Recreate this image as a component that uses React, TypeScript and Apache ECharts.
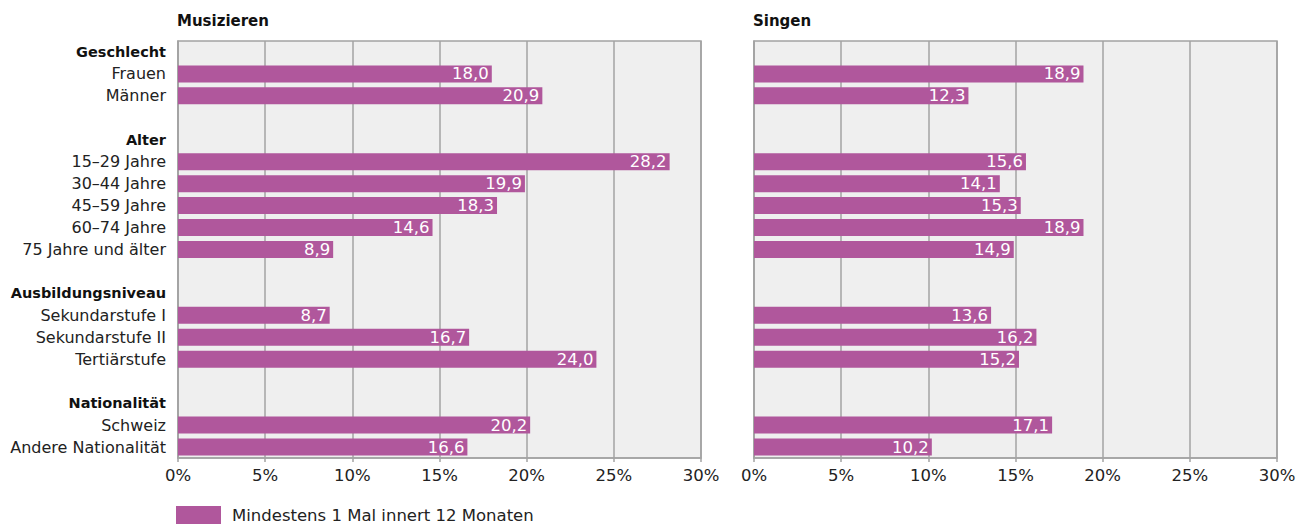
import React, { useEffect, useRef } from "react";
import * as echarts from "echarts";

const categories = [
  "Geschlecht", "Frauen", "Männer", " ",
  "Alter", "15–29 Jahre", "30–44 Jahre", "45–59 Jahre", "60–74 Jahre", "75 Jahre und älter", "  ",
  "Ausbildungsniveau", "Sekundarstufe I", "Sekundarstufe II", "Tertiärstufe", "   ",
  "Nationalität", "Schweiz", "Andere Nationalität",
];
const headers = ["Geschlecht", "Alter", "Ausbildungsniveau", "Nationalität"];

const musizieren = [null, 18.0, 20.9, null, null, 28.2, 19.9, 18.3, 14.6, 8.9, null, null, 8.7, 16.7, 24.0, null, null, 20.2, 16.6];
const singen = [null, 18.9, 12.3, null, null, 15.6, 14.1, 15.3, 18.9, 14.9, null, null, 13.6, 16.2, 15.2, null, null, 17.1, 10.2];

const panelTitles = ["Musizieren", "Singen"];
const legendLabel = "Mindestens 1 Mal innert 12 Monaten";

const FONT = "'DejaVu Sans', sans-serif";
const BAR = "#b0579c";
const LINE = "#a3a3a3";

export default function App() {
  const ref = useRef<HTMLDivElement>(null);
  useEffect(() => {
    if (!ref.current) return;
    const chart = echarts.init(ref.current, null, { renderer: "svg" });
    const grids = [
      { left: 178, width: 523, top: 41, height: 417 },
      { left: 754, width: 523, top: 41, height: 417 },
    ];
    const xAxis = grids.map((_, i) => ({
      type: "value",
      gridIndex: i,
      min: 0,
      max: 30,
      interval: 5,
      axisLabel: {
        formatter: "{value}%",
        color: "#222",
        fontSize: 16.5,
        fontFamily: FONT,
        margin: 9,
      },
      axisLine: { show: true, lineStyle: { color: LINE, width: 1.5 } },
      axisTick: { show: true, length: 4, lineStyle: { color: LINE, width: 1.5 } },
      splitLine: { show: true, lineStyle: { color: LINE, width: 1.5 } },
    }));
    const yAxis = grids.map((_, i) => ({
      type: "category",
      gridIndex: i,
      inverse: true,
      data: categories,
      axisLine: { show: true, lineStyle: { color: LINE, width: 1.5 } },
      axisTick: { show: false },
      axisLabel: {
        show: i === 0,
        interval: 0,
        margin: 12,
        color: "#222",
        fontSize: 16,
        fontFamily: FONT,
        formatter: (v: string) => (headers.includes(v) ? `{b|${v}}` : v),
        rich: { b: { fontWeight: "bold", fontSize: 14.5, fontFamily: FONT, color: "#111" } },
      },
    }));
    const mkSeries = (data: (number | null)[], i: number) => ({
      type: "bar",
      name: legendLabel,
      xAxisIndex: i,
      yAxisIndex: i,
      data,
      barWidth: 17,
      itemStyle: { color: BAR },
      label: {
        show: true,
        position: "insideRight",
        distance: 3,
        color: "#fff",
        fontSize: 16.5,
        fontFamily: FONT,
        formatter: (p: any) => (p.value == null ? "" : Number(p.value).toFixed(1).replace(".", ",")),
      },
    });
    chart.setOption({
      animation: false,
      grid: grids.map((g) => ({ ...g, show: true, backgroundColor: "#efefef", borderColor: LINE, borderWidth: 1.5 })),
      xAxis,
      yAxis,
      series: [mkSeries(musizieren, 0), mkSeries(singen, 1)],
      title: panelTitles.map((t, i) => ({
        text: t,
        left: grids[i].left - 6,
        top: 8,
        textStyle: { fontSize: 15, fontWeight: "bold", color: "#111", fontFamily: FONT },
      })),
      legend: {
        data: [legendLabel],
        left: 171,
        top: 501,
        itemWidth: 45,
        itemHeight: 18,
        icon: "rect",
        textStyle: { fontSize: 16.5, color: "#222", fontFamily: FONT, padding: [0, 0, 0, 6] },
      },
    });
    return () => chart.dispose();
  }, []);
  return <div ref={ref} style={{ width: 1310, height: 524, position: "absolute", left: 0, top: 0 }} />;
}
